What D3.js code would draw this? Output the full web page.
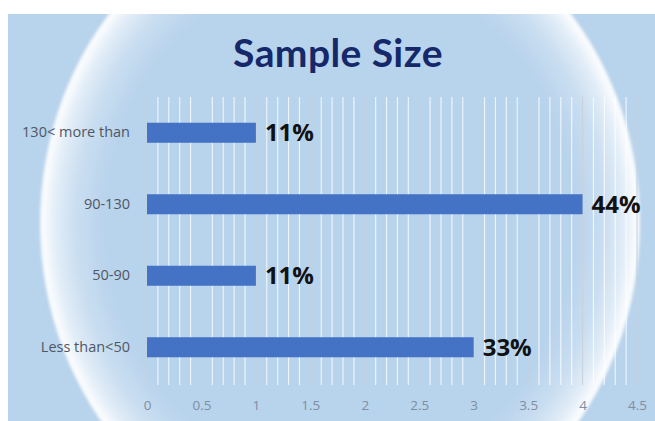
<!DOCTYPE html>
<html>
<head>
<meta charset="utf-8">
<script src="https://cdn.jsdelivr.net/npm/d3@7/dist/d3.min.js"></script>
<style>
  html, body { margin: 0; padding: 0; background: #ffffff; }
  svg { display: block; }
</style>
</head>
<body>
<svg id="chart" width="655" height="421"></svg>
<script>
// Sample size groups and how many studies fall in each
const categories = ["130< more than", "90-130", "50-90", "Less than<50"];
const counts = [1, 4, 1, 3];
const xTicks = [0, 0.5, 1, 1.5, 2, 2.5, 3, 3.5, 4, 4.5];
const title = "Sample Size";

const total = d3.sum(counts);
const rows = categories.map((c, i) => ({ cat: c, n: counts[i], pct: Math.round(counts[i] / total * 100) }));

const W = 655, H = 421;
const svg = d3.select("#chart");
const defs = svg.append("defs");

// Backdrop: pale blue panel with a glowing elliptical rim
const glow = defs.append("radialGradient").attr("id", "rim");
[[0, 0], [0.78, 0], [0.88, 0.25], [0.95, 0.6], [0.99, 0.95], [1, 0.8]].forEach(([o, a]) =>
  glow.append("stop").attr("offset", o).attr("stop-color", "#ffffff").attr("stop-opacity", a));

const edgeBlur = defs.append("filter").attr("id", "soft").attr("x", "-5%").attr("y", "-5%").attr("width", "110%").attr("height", "110%");
edgeBlur.append("feGaussianBlur").attr("stdDeviation", 1.5);

defs.append("clipPath").attr("id", "panel")
  .append("rect").attr("x", 8).attr("y", 14).attr("width", W - 8).attr("height", H - 14);

const bg = svg.append("g").attr("clip-path", "url(#panel)");
bg.append("rect").attr("x", 8).attr("y", 14).attr("width", W - 8).attr("height", H - 14).attr("fill", "#b8d3ec");
bg.append("ellipse")
  .attr("cx", 340).attr("cy", 223).attr("rx", 300).attr("ry", 328)
  .attr("fill", "url(#rim)").attr("filter", "url(#soft)");

// Plot area
const margin = { left: 147, right: W - 637, top: 97, bottom: H - 383 };
const x = d3.scaleLinear().domain([0, 4.5]).range([margin.left, W - margin.right]);
const y = d3.scaleBand().domain(categories).range([margin.top, H - margin.bottom]).paddingInner(0.72).paddingOuter(0.36);

// Vertical gridlines: fine steps of 0.1, with the half-unit lines tinted grey
const gridVals = d3.range(0, 46).map(i => i / 10);
svg.append("g").selectAll("line").data(gridVals).join("line")
  .attr("x1", d => x(d)).attr("x2", d => x(d))
  .attr("y1", margin.top).attr("y2", H - margin.bottom + 2)
  .attr("stroke", (d, i) => i % 5 === 0 ? "#c9d0da" : "#ffffff")
  .attr("stroke-opacity", (d, i) => i % 5 === 0 ? 0.9 : 0.75)
  .attr("stroke-width", 1.2);

// Bars
svg.append("g").selectAll("rect").data(rows).join("rect")
  .attr("x", x(0)).attr("y", d => y(d.cat))
  .attr("width", d => x(d.n) - x(0)).attr("height", y.bandwidth())
  .attr("fill", "#4472c4");

// Percentage labels
svg.append("g").selectAll("text").data(rows).join("text")
  .attr("x", d => x(d.n) + 9).attr("y", d => y(d.cat) + y.bandwidth() / 2)
  .attr("dy", "0.36em")
  .attr("font-family", "'Open Sans', sans-serif").attr("font-weight", 700).attr("font-size", 24)
  .attr("fill", "#111111")
  .text(d => d.pct + "%");

// Category axis
const yAxis = svg.append("g").attr("transform", `translate(${margin.left},0)`)
  .call(d3.axisLeft(y).tickSize(0).tickPadding(17));
yAxis.select(".domain").remove();
yAxis.selectAll("text")
  .attr("font-family", "'Open Sans', sans-serif").attr("font-size", 14.5).attr("fill", "#4f5764");

// Value axis
const xAxis = svg.append("g").attr("transform", `translate(0,${H - margin.bottom})`)
  .call(d3.axisBottom(x).tickValues(xTicks).tickFormat(d3.format("")).tickSize(0).tickPadding(17));
xAxis.select(".domain").remove();
xAxis.selectAll("text")
  .attr("font-family", "'Open Sans', sans-serif").attr("font-size", 13.5).attr("fill", "#7f8ea1");

// Title
svg.append("text")
  .attr("x", 338).attr("y", 67).attr("text-anchor", "middle")
  .attr("font-family", "Lato, 'Open Sans', sans-serif").attr("font-weight", 700).attr("font-size", 39)
  .attr("letter-spacing", 0.4)
  .attr("fill", "#14286a")
  .text(title);
</script>
</body>
</html>
